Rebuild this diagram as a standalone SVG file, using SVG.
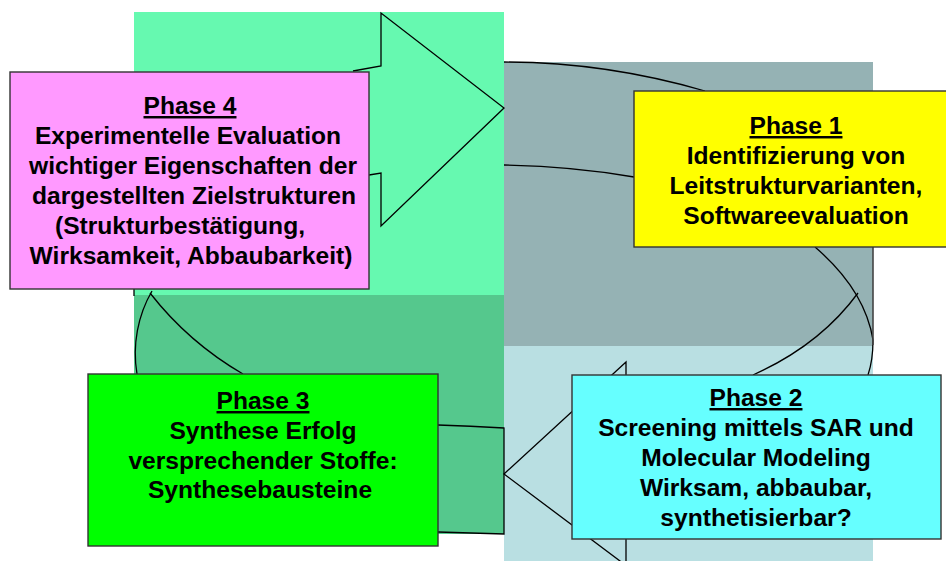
<svg xmlns="http://www.w3.org/2000/svg" width="946" height="561" viewBox="0 0 946 561">
<style>
.ln{fill:none;stroke:#000;stroke-width:1.3}
.box{stroke:#333;stroke-width:1.4}
.t{font-family:"Liberation Sans",Arial,sans-serif;font-weight:bold;font-size:24.6px;fill:#000;text-anchor:middle}
.h{text-decoration:underline}
</style>
<rect width="946" height="561" fill="#fff"/>
<g id="quadrants">
<rect x="134" y="12" width="370" height="283" fill="#66F9B0"/>
<rect x="504" y="62" width="369" height="284" fill="#95B2B4"/>
<rect x="504" y="346" width="369" height="215" fill="#B9DFE2"/>
<rect x="134" y="295" width="370" height="239" fill="#55C88D"/>
</g>
<g id="connectors">
<path class="ln" d="M353,71 L381,66 L381,13 L504,108 L381,226 L381,173 L369,175"/>
<path class="ln" d="M134,289 L134,296"/>
<path class="ln" d="M152,291 C138,315 132,345 137,374"/>
<path class="ln" d="M150,293 C175,325 205,352 243,374"/>
<path class="ln" d="M504,62 C580,62 650,75 705,91"/>
<path class="ln" d="M504,165 C560,166 600,171 634,177"/>
<path class="ln" d="M815,247 Q865,290 873,340 Q873,360 868,375"/>
<path class="ln" d="M858,293 Q820,345 753,375"/>
<path d="M873,247 L873,345" stroke="#444" stroke-width="1.6" fill="none"/>
<path class="ln" d="M626,375 L626,362 L504,474 L628,567"/>
<path class="ln" d="M626,539 L626,561"/>
<path class="ln" d="M438,425 Q470,426 504,428 L504,534 Q470,533 438,532"/>
</g>
<g id="phase4">
<rect class="box" x="10" y="72" width="359" height="217" fill="#FF99FF"/>
<text class="t h" x="190" y="114">Phase 4</text>
<text class="t" x="188" y="144">Experimentelle Evaluation</text>
<text class="t" x="193" y="174">wichtiger Eigenschaften der</text>
<text class="t" x="194" y="204">dargestellten Zielstrukturen</text>
<text class="t" x="180" y="234">(Strukturbestätigung,</text>
<text class="t" x="191" y="264">Wirksamkeit, Abbaubarkeit)</text>
</g>
<g id="phase1">
<rect class="box" x="634" y="91" width="313" height="156" fill="#FFFF00"/>
<text class="t h" x="796" y="134">Phase 1</text>
<text class="t" x="796" y="164">Identifizierung von</text>
<text class="t" x="796" y="194">Leitstrukturvarianten,</text>
<text class="t" x="796" y="224">Softwareevaluation</text>
</g>
<g id="phase2">
<rect class="box" x="572" y="375" width="369" height="164" fill="#66FFFF"/>
<text class="t h" x="756" y="406">Phase 2</text>
<text class="t" x="756" y="436">Screening mittels SAR und</text>
<text class="t" x="756" y="466">Molecular Modeling</text>
<text class="t" x="756" y="496">Wirksam, abbaubar,</text>
<text class="t" x="756" y="526">synthetisierbar?</text>
</g>
<g id="phase3">
<rect class="box" x="88" y="374" width="350" height="172" fill="#00FF00"/>
<text class="t h" x="263" y="409">Phase 3</text>
<text class="t" x="263" y="439">Synthese Erfolg</text>
<text class="t" x="263" y="469">versprechender Stoffe:</text>
<text class="t" x="260" y="498">Synthesebausteine</text>
</g>
</svg>
